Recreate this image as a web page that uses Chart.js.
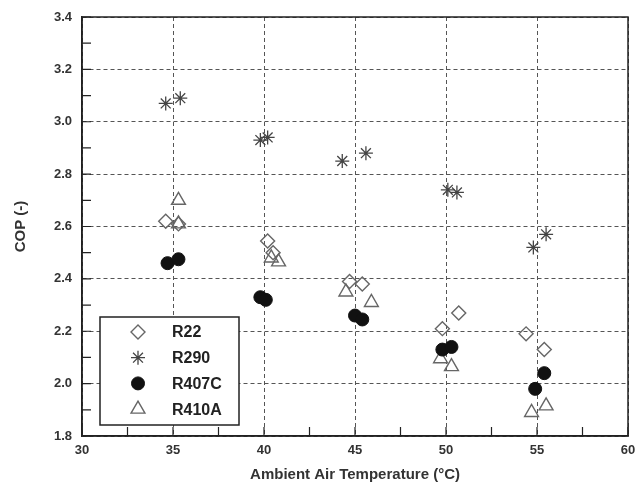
<!DOCTYPE html>
<html>
<head>
<meta charset="utf-8">
<script src="https://cdn.jsdelivr.net/npm/chart.js@4"></script>
<style>
  html, body { margin: 0; padding: 0; background: #fff; }
  #wrap { width: 638px; height: 491px; }
</style>
</head>
<body>
<div id="wrap"><canvas id="copChart" width="638" height="491"></canvas></div>
<script>
// values (temperature in °C, COP)
const r22X   = [34.6, 35.3, 40.2, 40.5, 44.7, 45.4, 49.8, 50.7, 54.4, 55.4];
const r22Y   = [2.62, 2.61, 2.545, 2.50, 2.39, 2.38, 2.21, 2.27, 2.19, 2.13];
const r290X  = [34.6, 35.4, 39.8, 40.2, 44.3, 45.6, 50.1, 50.6, 54.8, 55.5];
const r290Y  = [3.07, 3.09, 2.93, 2.94, 2.85, 2.88, 2.74, 2.73, 2.52, 2.57];
const r407cX = [34.7, 35.3, 39.8, 40.1, 45.0, 45.4, 49.8, 50.3, 54.9, 55.4];
const r407cY = [2.46, 2.475, 2.33, 2.32, 2.26, 2.245, 2.13, 2.14, 1.98, 2.04];
const r410aX = [35.3, 35.3, 40.4, 40.8, 44.5, 45.9, 49.7, 50.3, 54.7, 55.5];
const r410aY = [2.70, 2.61, 2.48, 2.465, 2.35, 2.31, 2.095, 2.065, 1.89, 1.915];

const xTicks = [30, 35, 40, 45, 50, 55, 60];
const yTicks = [1.8, 2.0, 2.2, 2.4, 2.6, 2.8, 3.0, 3.2, 3.4];
const xMinor = [32.5, 37.5, 42.5, 47.5, 52.5, 57.5];
const yMinor = [1.9, 2.1, 2.3, 2.5, 2.7, 2.9, 3.1, 3.3];

const toPoints = (xs, ys) => xs.map((x, i) => ({ x: x, y: ys[i] }));

const tickFont = { family: "'Liberation Sans', Arial, sans-serif", size: 13, weight: "bold" };
const titleFont = { family: "'Liberation Sans', Arial, sans-serif", size: 15, weight: "bold" };

// frame, inward minor/major ticks and the boxed legend inside the plot
const framePlugin = {
    id: "frame",
    afterDatasetsDraw(chart) {
        const ctx = chart.ctx;
        const a = chart.chartArea;
        const xs = chart.scales.x, ys = chart.scales.y;
        ctx.save();
        ctx.strokeStyle = "#222";
        ctx.lineWidth = 1.5;
        ctx.setLineDash([]);
        ctx.strokeRect(a.left, a.top, a.right - a.left, a.bottom - a.top);
        ctx.lineWidth = 1.2;
        ctx.beginPath();
        xTicks.concat(xMinor).forEach(v => {
            const px = xs.getPixelForValue(v);
            ctx.moveTo(px, a.bottom);
            ctx.lineTo(px, a.bottom - 9);
        });
        yTicks.concat(yMinor).forEach(v => {
            const py = ys.getPixelForValue(v);
            ctx.moveTo(a.left, py);
            ctx.lineTo(a.left + 9, py);
        });
        ctx.stroke();

        // legend box
        const bx = a.left + 18, bw = 139, bh = 108;
        const by = a.bottom - 11 - bh;
        ctx.fillStyle = "#fff";
        ctx.fillRect(bx, by, bw, bh);
        ctx.lineWidth = 1.5;
        ctx.strokeStyle = "#222";
        ctx.strokeRect(bx, by, bw, bh);
        ctx.font = "bold 16px 'Liberation Sans', Arial, sans-serif";
        ctx.textBaseline = "middle";
        chart.data.datasets.forEach((ds, i) => {
            const cy = by + 15 + i * 25.7;
            ctx.save();
            ctx.fillStyle = ds.backgroundColor;
            ctx.strokeStyle = ds.borderColor;
            ctx.lineWidth = ds.borderWidth;
            Chart.helpers.drawPoint(ctx, {
                pointStyle: ds.pointStyle,
                radius: ds.pointRadius,
                borderWidth: ds.borderWidth
            }, bx + 38, cy);
            ctx.restore();
            ctx.fillStyle = "#222";
            ctx.fillText(ds.label, bx + 72, cy + 1);
        });
        ctx.restore();
    }
};

new Chart(document.getElementById("copChart").getContext("2d"), {
    type: "scatter",
    data: {
        datasets: [
            { label: "R22", data: toPoints(r22X, r22Y), pointStyle: "rectRot", pointRadius: 7,
              backgroundColor: "rgba(255,255,255,0)", borderColor: "#666", borderWidth: 1.4 },
            { label: "R290", data: toPoints(r290X, r290Y), pointStyle: "star", pointRadius: 7,
              backgroundColor: "#444", borderColor: "#444", borderWidth: 1.3 },
            { label: "R407C", data: toPoints(r407cX, r407cY), pointStyle: "circle", pointRadius: 6.5,
              backgroundColor: "#111", borderColor: "#111", borderWidth: 1 },
            { label: "R410A", data: toPoints(r410aX, r410aY), pointStyle: "triangle", pointRadius: 8,
              backgroundColor: "rgba(255,255,255,0)", borderColor: "#666", borderWidth: 1.4 }
        ]
    },
    options: {
        responsive: false,
        animation: false,
        layout: { padding: { top: 17, right: 10, left: 8, bottom: 3 } },
        plugins: { legend: { display: false }, tooltip: { enabled: false } },
        scales: {
            x: {
                type: "linear", min: 30, max: 60,
                afterBuildTicks: s => { s.ticks = xTicks.map(v => ({ value: v })); },
                ticks: { color: "#333", font: tickFont, padding: 7, maxRotation: 0 },
                grid: { color: "#555", lineWidth: 1, drawTicks: false },
                border: { display: true, color: "#222", width: 1.5, dash: [4, 3] },
                title: { display: true, text: "Ambient Air Temperature (°C)", color: "#333", font: titleFont, padding: { top: 12 } },
                afterFit: s => { s.height = 52; s.paddingRight = 0; s.paddingLeft = 0; }
            },
            y: {
                type: "linear", min: 1.8, max: 3.4,
                afterBuildTicks: s => { s.ticks = yTicks.map(v => ({ value: v })); },
                ticks: { color: "#333", font: tickFont, padding: 10, callback: v => Number(v).toFixed(1) },
                grid: { color: "#555", lineWidth: 1, drawTicks: false },
                border: { display: true, color: "#222", width: 1.5, dash: [4, 3] },
                title: { display: true, text: "COP (-)", color: "#333", font: titleFont, padding: { bottom: 14 } },
                afterFit: s => { s.width = 74; s.paddingTop = 0; s.paddingBottom = 0; }
            }
        }
    },
    plugins: [framePlugin]
});
</script>
</body>
</html>
